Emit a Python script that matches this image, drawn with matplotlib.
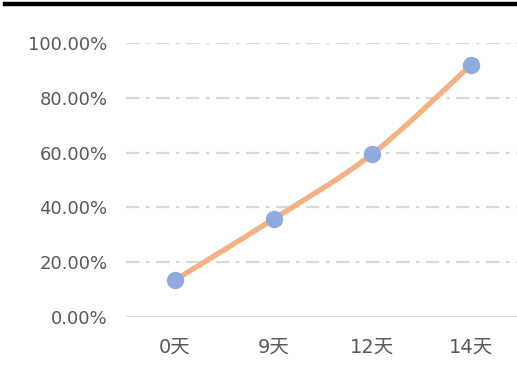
import matplotlib
matplotlib.use("Agg")
import matplotlib.pyplot as plt
import numpy as np
from matplotlib.path import Path
from matplotlib.patches import PathPatch
from matplotlib.lines import Line2D
from matplotlib.ticker import FuncFormatter

plt.rcParams['font.family'] = ['DejaVu Sans', 'Noto Sans CJK SC']

days = ['0天', '9天', '12天', '14天']
values = [0.135, 0.358, 0.595, 0.92]


def smooth_path(xs, ys):
    # Catmull-Rom style smoothing like the Excel "smoothed line"
    pts = np.column_stack([xs, ys])
    verts = [pts[0]]
    codes = [Path.MOVETO]
    n = len(pts)
    for i in range(n - 1):
        p0 = pts[i - 1] if i > 0 else pts[i]
        p1 = pts[i]
        p2 = pts[i + 1]
        p3 = pts[i + 2] if i + 2 < n else pts[i + 1]
        c1 = p1 + (p2 - p0) / 6.0
        c2 = p2 - (p3 - p1) / 6.0
        verts += [c1, c2, p2]
        codes += [Path.CURVE4] * 3
    return Path(verts, codes)


fig = plt.figure(figsize=(5.17, 3.79), dpi=100)
ax = fig.add_axes([0.2431, 0.1636, 0.7633, 0.7229])

x = np.arange(len(days))
ax.add_patch(PathPatch(smooth_path(x, values), facecolor='none',
                       edgecolor='#F4B183', lw=3.8, capstyle='round', zorder=3))
ax.plot(x, values, 'o', color='#8FAADC', markersize=11.5, zorder=4)

ax.set_xlim(-0.5, 3.5)
ax.set_ylim(0, 1.0)
ax.set_yticks(np.arange(0, 1.01, 0.2))
ax.yaxis.set_major_formatter(FuncFormatter(lambda v, p: '%.2f%%' % (v * 100)))
ax.set_xticks(x)
ax.set_xticklabels(days)

for v in np.arange(0.2, 1.01, 0.2):
    ax.axhline(v, color='#D9D9D9', lw=1.6, ls=(0, (6, 3, 1.5, 3)), zorder=1)
ax.axhline(0, color='#D9D9D9', lw=1.6, zorder=1)

for s in ax.spines.values():
    s.set_visible(False)
ax.tick_params(length=0, labelsize=13, colors='#595959')
ax.tick_params(axis='y', pad=13)
ax.tick_params(axis='x', pad=15, labelsize=14)

# black bar at the top of the image
fig.add_artist(Line2D([0.01, 1.0], [0.9895, 0.9895], color='black', lw=3.2))

fig.savefig('out.png', dpi=100)
